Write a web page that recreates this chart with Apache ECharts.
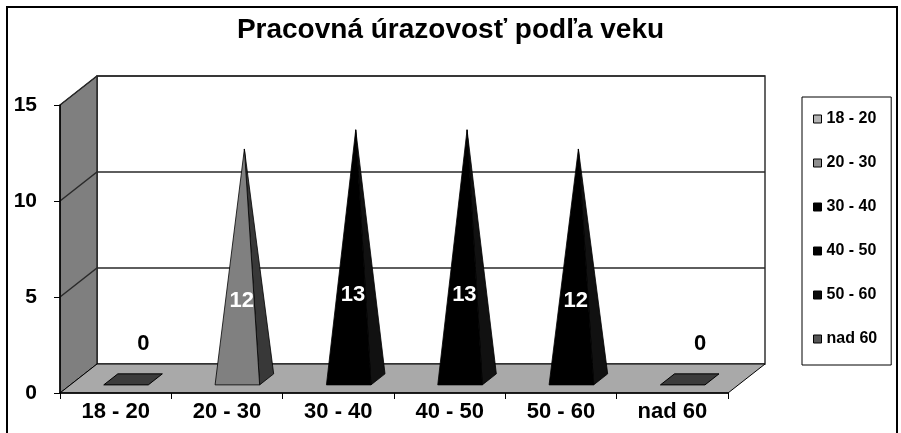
<!DOCTYPE html>
<html>
<head>
<meta charset="utf-8">
<script src="https://cdn.jsdelivr.net/npm/echarts@6/dist/echarts.min.js"></script>
<style>
html,body{margin:0;padding:0;background:#fff;}
#chart{width:901px;height:433px;}
</style>
</head>
<body>
<div id="chart"></div>
<script>
// ---- data ----
const titleText = 'Pracovná úrazovosť podľa veku';
const categories = ['18 - 20', '20 - 30', '30 - 40', '40 - 50', '50 - 60', 'nad 60'];
const values = [0, 12, 13, 13, 12, 0];
const yTicks = [0, 5, 10, 15];

// ---- styles ----
const frontColors = ['#3c3c3c', '#808080', '#000000', '#000000', '#000000', '#3c3c3c'];
const sideColors = ['#3c3c3c', '#383838', '#111111', '#111111', '#111111', '#3c3c3c'];
const legendColors = ['#b4b4b4', '#8e8e8e', '#000000', '#000000', '#0a0a0a', '#555555'];
const FONT = '"Liberation Sans", Arial, sans-serif';
const DX = 37, DY = 29; // 3D depth offset in pixels

const chart = echarts.init(document.getElementById('chart'), null, {renderer: 'canvas'});

function wallsRender(params, api) {
  const cs = params.coordSys;
  const x0 = cs.x, x1 = cs.x + cs.width;
  const yb = api.coord([0, yTicks[0]])[1];
  const yt = api.coord([0, yTicks[yTicks.length - 1]])[1];
  const children = [];
  children.push({type: 'rect', shape: {x: x0 + DX, y: yt - DY, width: x1 - x0, height: yb - yt},
    style: {fill: '#ffffff', stroke: '#333333', lineWidth: 1.5}});
  children.push({type: 'polygon', shape: {points: [[x0, yb], [x0, yt], [x0 + DX, yt - DY], [x0 + DX, yb - DY]]},
    style: {fill: '#7f7f7f', stroke: '#000', lineWidth: 1}});
  children.push({type: 'polygon', shape: {points: [[x0, yb], [x0 + DX, yb - DY], [x1 + DX, yb - DY], [x1, yb]]},
    style: {fill: '#a9a9a9', stroke: '#000', lineWidth: 1}});
  yTicks.forEach(function (v) {
    if (v === yTicks[0]) return;
    const y = api.coord([0, v])[1];
    children.push({type: 'polyline', shape: {points: [[x0, y], [x0 + DX, y - DY], [x1 + DX, y - DY]]},
      style: {fill: null, stroke: '#2a2a2a', lineWidth: 1.5}});
  });
  return {type: 'group', children: children};
}

function pyramidRender(i) {
  return function (params, api) {
    const idx = api.value(0), v = api.value(1);
    const b = api.coord([idx, 0]);
    const t = api.coord([idx, v]);
    const band = api.size([1, 0])[0];
    const hw = band * 0.2;
    const cx = b[0], yb = b[1];
    const f1 = 0.28, f2 = 0.66, fm = 0.47;
    const FL = [cx - hw + f1 * DX, yb - f1 * DY];
    const FR = [cx + hw + f1 * DX, yb - f1 * DY];
    const BR = [cx + hw + f2 * DX, yb - f2 * DY];
    const BL = [cx - hw + f2 * DX, yb - f2 * DY];
    const children = [];
    if (v === 0) {
      children.push({type: 'polygon', shape: {points: [FL, FR, BR, BL]},
        style: {fill: frontColors[i], stroke: '#000', lineWidth: 1}});
      children.push({type: 'text', x: cx + 0.75 * DX, y: yb - 0.5 * DY - 35,
        style: {text: String(v), fill: '#000', font: 'bold 22px ' + FONT, align: 'center', verticalAlign: 'middle'}});
    } else {
      const apex = [cx + fm * DX, t[1] - fm * DY];
      children.push({type: 'polygon', shape: {points: [FR, BR, apex]},
        style: {fill: sideColors[i], stroke: '#000', lineWidth: 0.8}});
      children.push({type: 'polygon', shape: {points: [FL, FR, apex]},
        style: {fill: frontColors[i], stroke: '#000', lineWidth: 0.8}});
      const lx = (FL[0] + FR[0] + apex[0]) / 3 + 2;
      const ly = (FL[1] + FR[1] + apex[1]) / 3 - 5;
      children.push({type: 'text', x: lx, y: ly,
        style: {text: String(v), fill: '#fff', font: 'bold 22px ' + FONT, align: 'center', verticalAlign: 'middle'}});
    }
    return {type: 'group', children: children};
  };
}

const series = [{
  type: 'custom',
  name: '__walls',
  coordinateSystem: 'cartesian2d',
  data: [[0, 0]],
  renderItem: wallsRender,
  silent: true,
  z: 1
}];
categories.forEach(function (c, i) {
  series.push({
    type: 'custom',
    name: c,
    coordinateSystem: 'cartesian2d',
    data: [[i, values[i]]],
    renderItem: pyramidRender(i),
    itemStyle: {color: legendColors[i]},
    silent: true,
    z: 2
  });
});

const option = {
  animation: false,
  backgroundColor: '#fff',
  title: {
    text: titleText,
    left: 'center',
    top: 16,
    padding: 0,
    textStyle: {fontFamily: FONT, fontWeight: 'bold', fontSize: 28, color: '#000'}
  },
  grid: {left: 60, top: 105, width: 668, height: 288, containLabel: false, outerBoundsMode: 'none'},
  xAxis: {
    type: 'category',
    data: categories,
    boundaryGap: true,
    z: 5,
    axisLine: {show: true, lineStyle: {color: '#000', width: 1.5}},
    axisTick: {show: true, length: 6, interval: 0, lineStyle: {color: '#000', width: 1}},
    axisLabel: {color: '#000', fontFamily: FONT, fontWeight: 'bold', fontSize: 22, margin: 8, interval: 0},
    splitLine: {show: false}
  },
  yAxis: {
    type: 'value',
    min: yTicks[0],
    max: yTicks[yTicks.length - 1],
    interval: 5,
    z: 5,
    axisLine: {show: true, lineStyle: {color: '#000', width: 1.5}},
    axisTick: {show: true, length: 6, lineStyle: {color: '#000', width: 1}},
    axisLabel: {color: '#000', fontFamily: FONT, fontWeight: 'bold', fontSize: 21, margin: 23},
    splitLine: {show: false}
  },
  legend: {
    orient: 'vertical',
    left: 802,
    top: 97,
    data: categories,
    icon: 'rect',
    itemWidth: 8,
    itemHeight: 8,
    itemGap: 28,
    padding: [14, 14, 18, 11],
    borderColor: '#000',
    borderWidth: 1,
    selectedMode: false,
    itemStyle: {borderColor: '#000', borderWidth: 1},
    textStyle: {fontFamily: FONT, fontWeight: 'bold', fontSize: 16, color: '#000', lineHeight: 16}
  },
  graphic: [{
    type: 'rect',
    shape: {x: 7, y: 7, width: 890, height: 440},
    style: {fill: null, stroke: '#000', lineWidth: 2},
    silent: true,
    z: 100
  }],
  series: series
};
chart.setOption(option);
</script>
</body>
</html>
